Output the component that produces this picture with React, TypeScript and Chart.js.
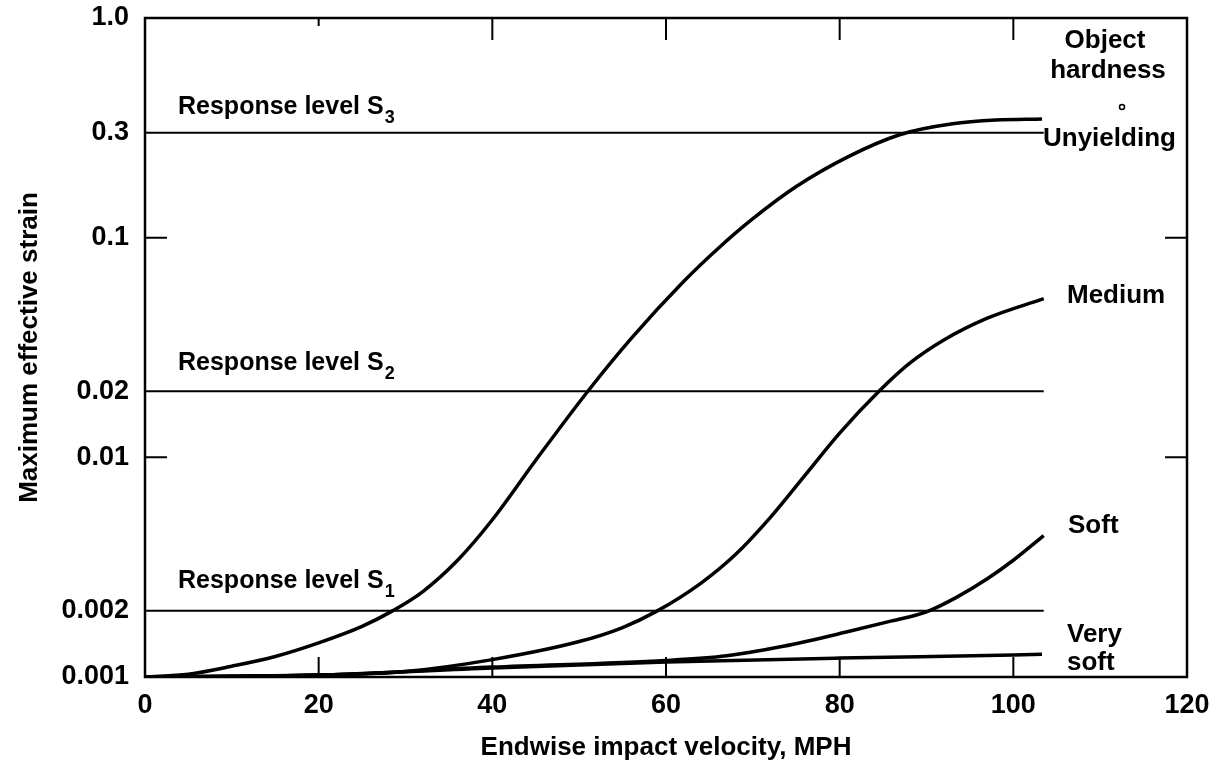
import React, { useEffect, useRef } from "react";
import { Chart, registerables } from "chart.js";

Chart.register(...registerables);

// Velocity (MPH) and maximum effective strain for each object hardness
const unyieldingV = [0, 5, 10, 15, 20, 25, 28.5, 32, 36, 40, 45, 51, 56, 62, 66, 70, 75, 81, 87, 93, 98, 103.3];
const unyieldingS = [0.001, 0.00103, 0.00112, 0.00124, 0.00143, 0.0017, 0.002, 0.00245, 0.0034, 0.0052, 0.0097, 0.02, 0.0348, 0.063, 0.0893, 0.122, 0.171, 0.234, 0.295, 0.33, 0.343, 0.347];

const mediumV = [0, 10, 20, 30, 40, 50, 55, 59, 64, 68, 72, 76, 80, 84.7, 88, 92, 97, 103.5];
const mediumS = [0.001, 0.001005, 0.00102, 0.00106, 0.0012, 0.00145, 0.00168, 0.002, 0.00267, 0.00361, 0.00532, 0.00828, 0.0129, 0.0203, 0.0267, 0.0342, 0.043, 0.0528];

const softV = [0, 20, 40, 60, 67, 73.5, 81, 86, 90, 93.5, 97, 100, 103.5];
const softS = [0.001, 0.00102, 0.00111, 0.00119, 0.00125, 0.00138, 0.00161, 0.0018, 0.00198, 0.00231, 0.0028, 0.0034, 0.0044];

const verySoftV = [0, 10, 20, 40, 60, 80, 100, 103.3];
const verySoftS = [0.001, 0.00101, 0.00102, 0.0011, 0.00117, 0.00122, 0.00126, 0.00127];

const responseLevels = [0.002, 0.02, 0.3];
const responseSubs = ["1", "2", "3"];
const responseSpan = [0, 103.5];

const xTickValues = [0, 20, 40, 60, 80, 100, 120];
const yTickValues = [0.001, 0.002, 0.01, 0.02, 0.1, 0.3, 1.0];
const yTickLabels = ["0.001", "0.002", "0.01", "0.02", "0.1", "0.3", "1.0"];
const innerXTicks = [20, 40, 60, 80, 100];
const innerYTicks = [0.01, 0.1];

const FONT = "'Liberation Sans', Arial, Helvetica, sans-serif";

function pts(v: number[], s: number[]) {
  return v.map((x, i) => ({ x, y: s[i] }));
}

function drawSub(ctx: CanvasRenderingContext2D, main: string, sub: string, x: number, y: number) {
  ctx.font = `bold 25px ${FONT}`;
  ctx.fillText(main, x, y);
  const w = ctx.measureText(main).width;
  ctx.font = `bold 18px ${FONT}`;
  ctx.fillText(sub, x + w + 1, y + 9);
}

const labelGaps = [23, 21, 19];

const framePlugin = {
  id: "frame",
  afterDraw(chart: any) {
    const { ctx, chartArea: a, scales } = chart;
    const x = scales.x;
    const y = scales.y;
    ctx.save();
    ctx.strokeStyle = "#000";
    ctx.fillStyle = "#000";
    ctx.lineWidth = 2.5;
    ctx.strokeRect(a.left, a.top, a.right - a.left, a.bottom - a.top);
    ctx.lineWidth = 2;
    ctx.beginPath();
    for (const v of innerXTicks) {
      const px = x.getPixelForValue(v);
      ctx.moveTo(px, a.bottom);
      ctx.lineTo(px, a.bottom - 20);
      ctx.moveTo(px, a.top);
      ctx.lineTo(px, a.top + (v === 20 ? 8 : 22));
    }
    for (const s of innerYTicks) {
      const py = y.getPixelForValue(s);
      ctx.moveTo(a.left, py);
      ctx.lineTo(a.left + 22, py);
      ctx.moveTo(a.right, py);
      ctx.lineTo(a.right - 22, py);
    }
    ctx.stroke();

    // response level labels
    ctx.textAlign = "left";
    ctx.textBaseline = "alphabetic";
    responseLevels.forEach((lvl, i) => {
      const py = y.getPixelForValue(lvl);
      drawSub(ctx, "Response level S", responseSubs[i], 178, py - labelGaps[i]);
    });

    // right-hand labels
    ctx.font = `bold 26px ${FONT}`;
    ctx.textAlign = "center";
    ctx.fillText("Object", 1105, 48);
    ctx.fillText("hardness", 1108, 78);
    ctx.beginPath();
    ctx.lineWidth = 1.5;
    ctx.arc(1122, 107, 2.5, 0, Math.PI * 2);
    ctx.stroke();
    ctx.textAlign = "left";
    ctx.fillText("Unyielding", 1043, 146);
    ctx.fillText("Medium", 1067, 303);
    ctx.fillText("Soft", 1068, 533);
    ctx.fillText("Very", 1067, 642);
    ctx.fillText("soft", 1067, 670);

    // axis titles
    ctx.font = `bold 26px ${FONT}`;
    ctx.textAlign = "center";
    ctx.fillText("Endwise impact velocity, MPH", (a.left + a.right) / 2, 755);
    ctx.save();
    ctx.translate(37, (a.top + a.bottom) / 2);
    ctx.rotate(-Math.PI / 2);
    ctx.fillText("Maximum effective strain", 0, 0);
    ctx.restore();
    ctx.restore();
  },
};

export default function App() {
  const ref = useRef<HTMLCanvasElement | null>(null);
  useEffect(() => {
    if (!ref.current) return;
    const curve = (data: any) => ({
      data,
      borderColor: "#000",
      borderWidth: 3.5,
      pointRadius: 0,
      fill: false,
      cubicInterpolationMode: "monotone" as const,
    });
    const levelLine = (lvl: number) => ({
      data: responseSpan.map((v) => ({ x: v, y: lvl })),
      borderColor: "#000",
      borderWidth: 2,
      pointRadius: 0,
      fill: false,
      tension: 0,
    });
    const chart = new Chart(ref.current, {
      type: "line",
      data: {
        datasets: [
          ...responseLevels.map(levelLine),
          { label: "Unyielding", ...curve(pts(unyieldingV, unyieldingS)) },
          { label: "Medium", ...curve(pts(mediumV, mediumS)) },
          { label: "Soft", ...curve(pts(softV, softS)) },
          { label: "Very soft", ...curve(pts(verySoftV, verySoftS)) },
        ],
      },
      options: {
        animation: false,
        responsive: false,
        maintainAspectRatio: false,
        devicePixelRatio: 1,
        layout: { padding: { top: 18, right: 29, left: 0, bottom: 0 } },
        plugins: { legend: { display: false }, tooltip: { enabled: false } },
        scales: {
          x: {
            type: "linear",
            min: 0,
            max: 120,
            grid: { display: false, drawTicks: false },
            border: { display: false },
            afterBuildTicks: (s: any) => {
              s.ticks = xTickValues.map((v) => ({ value: v }));
            },
            afterFit: (s: any) => {
              s.height = 86;
              s.paddingLeft = 0;
              s.paddingRight = 0;
            },
            ticks: {
              padding: 12,
              maxRotation: 0,
              color: "#000",
              font: { family: FONT, size: 27, weight: "bold" },
              callback: (v: any) => String(v),
            },
          },
          y: {
            type: "logarithmic",
            min: 0.001,
            max: 1.0,
            grid: { display: false, drawTicks: false },
            border: { display: false },
            afterBuildTicks: (s: any) => {
              s.ticks = yTickValues.map((v) => ({ value: v }));
            },
            afterFit: (s: any) => {
              s.width = 145;
              s.paddingTop = 0;
              s.paddingBottom = 0;
            },
            ticks: {
              padding: 16,
              color: "#000",
              font: { family: FONT, size: 27, weight: "bold" },
              callback: (v: any) => {
                const i = yTickValues.findIndex((t) => Math.abs(t - v) < 1e-9);
                return i >= 0 ? yTickLabels[i] : "";
              },
            },
          },
        },
      },
      plugins: [framePlugin],
    } as any);
    return () => chart.destroy();
  }, []);
  return (
    <div style={{ position: "absolute", left: 0, top: 0, width: 1216, height: 763, background: "#fff" }}>
      <canvas ref={ref} width={1216} height={763} style={{ width: 1216, height: 763, display: "block" }} />
    </div>
  );
}
